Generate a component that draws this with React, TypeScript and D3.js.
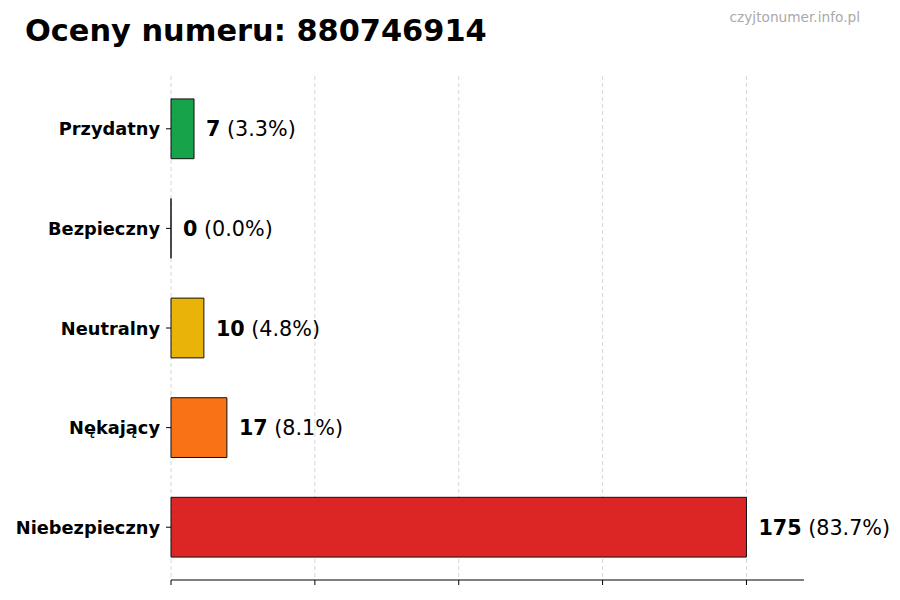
import React from 'react';
import * as d3 from 'd3';

const categories = ['Przydatny', 'Bezpieczny', 'Neutralny', 'Nękający', 'Niebezpieczny'];
const counts = [7, 0, 10, 17, 175];
const percents = ['3.3%', '0.0%', '4.8%', '8.1%', '83.7%'];
const barColors = ['#16a34a', '#16a34a', '#eab308', '#f97316', '#dc2626'];

const W = 900;
const H = 600;
const margin = { top: 76, right: 96, bottom: 20, left: 171 };
const FONT = '"DejaVu Sans", sans-serif';

const App: React.FC = () => {
  const maxVal = d3.max(counts) as number;
  const innerW = W - margin.left - margin.right;
  const innerBottom = H - margin.bottom;

  const x = d3.scaleLinear().domain([0, maxVal * 1.1]).range([margin.left, margin.left + innerW]);
  const y = d3.scaleBand<string>()
    .domain(categories)
    .range([margin.top, innerBottom])
    .paddingInner(0.4)
    .paddingOuter(0.23);

  // ticks at 0, max/4 ... max (labels hidden)
  const xTicks = d3.range(5).map(i => (maxVal / 4) * i);

  return (
    <div style={{ position: 'absolute', top: 0, left: 0 }}>
      <svg width={W} height={H} style={{ display: 'block', background: '#fff', fontFamily: FONT }}>
        <text x={25} y={41} fontSize={30.4} fontWeight="bold" fill="#000">Oceny numeru: 880746914</text>
        <text x={860} y={22} fontSize={13.7} fill="#aaa" textAnchor="end">czyjtonumer.info.pl</text>

        {xTicks.map((t, i) => (
          <g key={i}>
            <line x1={x(t)} x2={x(t)} y1={margin.top} y2={innerBottom}
              stroke="#ccc" strokeWidth={0.8} strokeDasharray="4,3" />
            <line x1={x(t)} x2={x(t)} y1={innerBottom} y2={innerBottom + 5} stroke="#000" strokeWidth={1} />
          </g>
        ))}

        {categories.map((c, i) => {
          const by = y(c) as number;
          const bh = y.bandwidth();
          const cy = by + bh / 2;
          const bw = x(counts[i]) - x(0);
          return (
            <g key={c}>
              <path d={`M${x(0)},${by}h${bw}v${bh}h${-bw}Z`}
                fill={barColors[i]} stroke="#111" strokeWidth={1} />
              <line x1={x(0) - 5} x2={x(0)} y1={cy} y2={cy} stroke="#000" strokeWidth={1} />
              <text x={x(0) - 11} y={cy + 6.5} textAnchor="end" fontSize={17.8} fontWeight="bold" fill="#000">{c}</text>
              <text x={x(counts[i]) + 12} y={cy + 7.5} fontSize={20.7} fill="#000">
                <tspan fontWeight="bold">{counts[i]}</tspan>
                <tspan> ({percents[i]})</tspan>
              </text>
            </g>
          );
        })}

        <line x1={x(0)} x2={x(maxVal * 1.1)} y1={innerBottom} y2={innerBottom} stroke="#000" strokeWidth={1} />
      </svg>
    </div>
  );
};

export default App;
